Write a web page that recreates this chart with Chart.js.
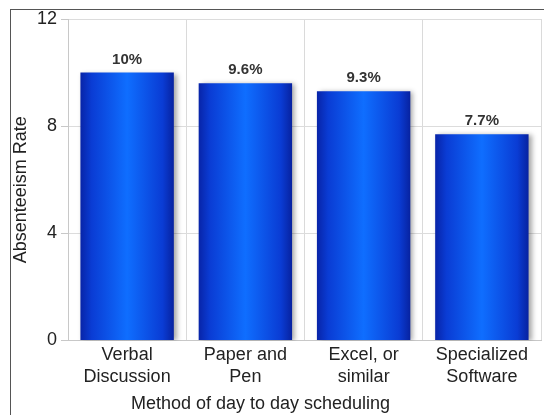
<!DOCTYPE html>
<html>
<head>
<meta charset="utf-8">
<script src="https://cdn.jsdelivr.net/npm/chart.js@4/dist/chart.umd.min.js"></script>
<style>
html,body{margin:0;padding:0;background:#fff;}
#wrap{position:relative;width:544px;height:415px;}
#frame{position:absolute;left:10px;top:9px;width:540px;height:410px;border-top:1px solid #555;border-left:1px solid #555;pointer-events:none;}
</style>
</head>
<body>
<div id="wrap">
<canvas id="c" width="544" height="415"></canvas>
<div id="frame"></div>
</div>
<script>
const categories = [["Verbal","Discussion"],["Paper and","Pen"],["Excel, or","similar"],["Specialized","Software"]];
const rates = [10, 9.6, 9.3, 7.7];
const rateLabels = ["10%", "9.6%", "9.3%", "7.7%"];
const yTicks = [0, 4, 8, 12];
const FONT = '"Liberation Sans", Arial, sans-serif';

function barFill(ctx) {
  const chart = ctx.chart;
  if (!chart.chartArea || ctx.dataIndex === undefined) return '#0a4fe8';
  const xs = chart.scales.x;
  const cx = xs.getPixelForValue(ctx.dataIndex);
  const w = xs.width / categories.length * 0.79;
  const g = chart.ctx.createLinearGradient(cx - w/2, 0, cx + w/2, 0);
  g.addColorStop(0, '#0824a8');
  g.addColorStop(0.12, '#0a3cd4');
  g.addColorStop(0.5, '#0f6eff');
  g.addColorStop(0.88, '#0a3cd4');
  g.addColorStop(1, '#0722a0');
  return g;
}

const shadowPlugin = {
  id: 'shadow',
  beforeDatasetDraw(chart) {
    const c = chart.ctx;
    c.save();
    c.shadowColor = 'rgba(0,0,0,0.35)';
    c.shadowBlur = 5;
    c.shadowOffsetX = 3;
    c.shadowOffsetY = 1;
  },
  afterDatasetDraw(chart) { chart.ctx.restore(); }
};

const labelPlugin = {
  id: 'vlabels',
  afterDatasetsDraw(chart) {
    const c = chart.ctx;
    const meta = chart.getDatasetMeta(0);
    c.save();
    c.font = 'bold 15px ' + FONT;
    c.fillStyle = '#333';
    c.textAlign = 'center';
    c.textBaseline = 'middle';
    meta.data.forEach((bar, i) => {
      c.fillText(rateLabels[i], bar.x, bar.y - 13);
    });
    c.restore();
  }
};

new Chart(document.getElementById('c'), {
  type: 'bar',
  data: {
    labels: categories,
    datasets: [{
      data: rates,
      backgroundColor: barFill,
      borderWidth: 0,
      barPercentage: 0.79,
      categoryPercentage: 1
    }]
  },
  plugins: [shadowPlugin, labelPlugin],
  options: {
    responsive: false,
    animation: false,
    events: [],
    layout: { padding: { top: 19, right: 3, left: 0, bottom: 0 } },
    plugins: {
      legend: { display: false },
      tooltip: { enabled: false },
      title: {
        display: true, position: 'bottom', text: 'Method of day to day scheduling    ',
        color: '#222', font: { family: FONT, size: 18, weight: 'normal' }, padding: { top: 0, bottom: 0 }
      }
    },
    scales: {
      x: {
        grid: { color: '#dadada', offset: true, drawTicks: false },
        border: { color: '#c8c8c8' },
        ticks: { color: '#222', font: { family: FONT, size: 18, lineHeight: 1.25 }, padding: 3, maxRotation: 0, autoSkip: false },
        afterFit(s) { s.height = 53; }
      },
      y: {
        min: 0, max: 12,
        afterBuildTicks(s) { s.ticks = yTicks.map(v => ({ value: v })); },
        grid: { color: '#dcdcdc', tickLength: 7, tickColor: '#c8c8c8' },
        border: { color: '#c8c8c8' },
        ticks: { color: '#222', font: { family: FONT, size: 18 }, padding: 4 },
        title: { display: true, text: 'Absenteeism Rate    ', color: '#222', font: { family: FONT, size: 18 }, padding: { top: 10, bottom: 0 } },
        afterFit(s) { s.width = 68; }
      }
    }
  }
});
</script>
</body>
</html>
